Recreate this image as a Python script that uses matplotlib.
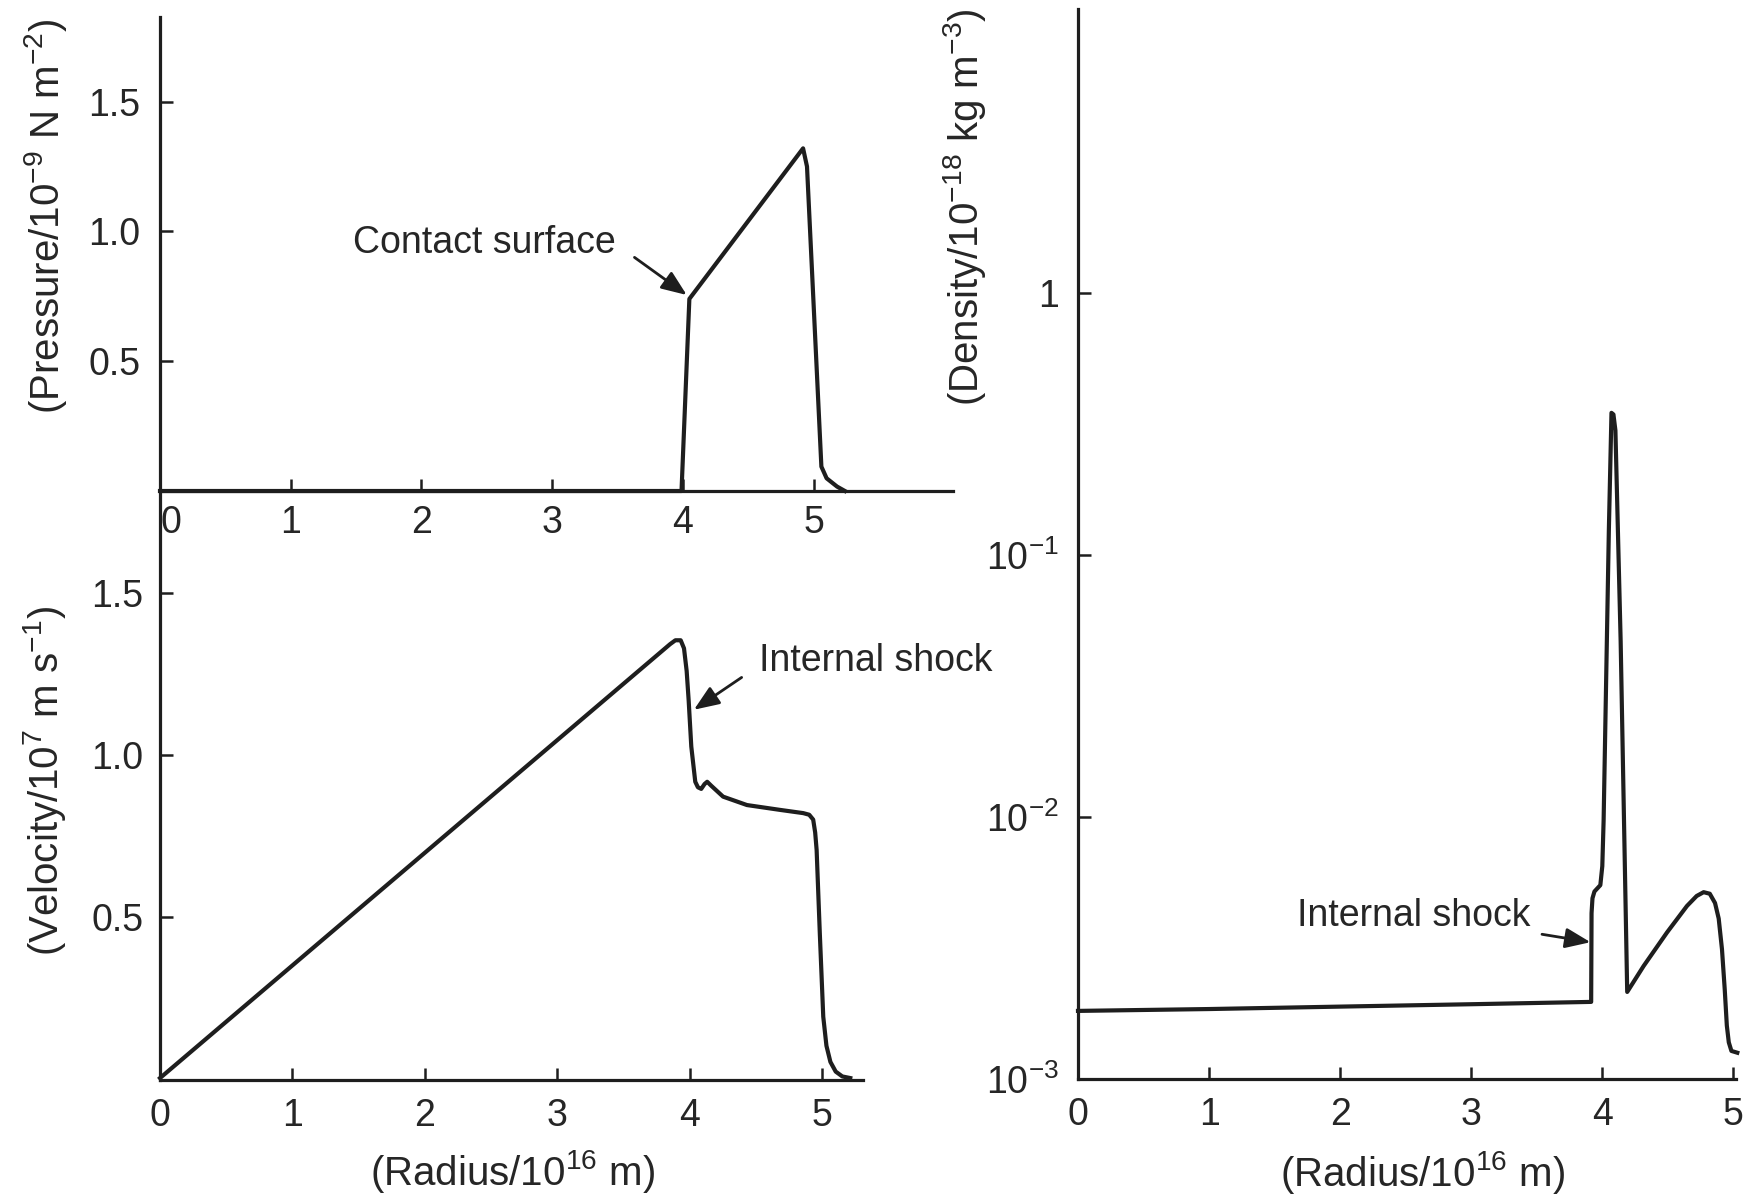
import matplotlib
matplotlib.use("Agg")
import matplotlib.pyplot as plt
from matplotlib.ticker import NullLocator

plt.rcParams['font.family'] = ['Liberation Sans', 'DejaVu Sans']
plt.rcParams['mathtext.fontset'] = 'custom'
plt.rcParams['mathtext.rm'] = 'Liberation Sans'
plt.rcParams['mathtext.it'] = 'Liberation Sans:italic'
plt.rcParams['mathtext.default'] = 'regular'

# ---------------- data ----------------
pressure_r = [0, 3.99, 4.05, 4.92, 4.95, 5.06, 5.10, 5.18, 5.24]
pressure_v = [0, 0, 0.74, 1.32, 1.25, 0.094, 0.049, 0.017, 0]

velocity_r = [0, 3.85, 3.89, 3.93, 3.955, 3.975, 3.99, 4.01, 4.04, 4.06, 4.085, 4.11,
              4.13, 4.16, 4.25, 4.43, 4.68, 4.855, 4.90, 4.93, 4.945, 4.956, 4.98,
              5.006, 5.03, 5.06, 5.10, 5.15, 5.21]
velocity_v = [0, 1.343, 1.355, 1.355, 1.33, 1.26, 1.17, 1.026, 0.917, 0.90, 0.895, 0.91,
              0.917, 0.905, 0.871, 0.845, 0.83, 0.82, 0.815, 0.80, 0.76, 0.706, 0.448,
              0.19, 0.10, 0.05, 0.02, 0.005, 0]

density_r = [0, 1, 2, 3, 3.915, 3.918, 3.925, 3.94, 3.985, 4.0, 4.01, 4.05, 4.07, 4.085,
             4.1, 4.14, 4.19, 4.315, 4.494, 4.646, 4.72, 4.773, 4.82, 4.86, 4.888,
             4.913, 4.934, 4.95, 4.965, 4.985, 5.03]
density_v = [1.82e-3, 1.85e-3, 1.89e-3, 1.93e-3, 1.97e-3, 4.3e-3, 4.9e-3, 5.2e-3,
             5.5e-3, 6.5e-3, 9.7e-3, 0.125, 0.35, 0.345, 0.30, 0.047, 2.15e-3, 2.7e-3,
             3.63e-3, 4.58e-3, 5.0e-3, 5.17e-3, 5.1e-3, 4.7e-3, 4.1e-3, 3.13e-3,
             2.2e-3, 1.6e-3, 1.38e-3, 1.28e-3, 1.26e-3]

x_ticks = [0, 1, 2, 3, 4, 5]
x_ticklabels = ['0', '1', '2', '3', '4', '5']
lin_yticks = [0.5, 1.0, 1.5]
lin_yticklabels = ['0.5', '1.0', '1.5']
log_yticks = [1e-3, 1e-2, 1e-1, 1]
log_yticklabels = [r'$10^{-3}$', r'$10^{-2}$', r'$10^{-1}$', '1']

# ---------------- style ----------------
INK = '#1e1e1e'
TXT = '#262626'
LW = 3.0
SPW = 2.3
TICK_FS = 27
LABEL_FS = 29

W, H = 1762, 1196
fig = plt.figure(figsize=(W / 100, H / 100), dpi=100)
fig.patch.set_facecolor('white')


def px_axes(left, top, right, bottom):
    return fig.add_axes([left / W, (H - bottom) / H, (right - left) / W, (bottom - top) / H])


def style(ax, xpad, ypad):
    for s in ['top', 'right']:
        ax.spines[s].set_visible(False)
    for s in ['left', 'bottom']:
        ax.spines[s].set_linewidth(SPW)
        ax.spines[s].set_color(INK)
    ax.set_facecolor('none')
    ax.tick_params(axis='both', direction='in', length=9, width=1.8, color=INK,
                   labelsize=TICK_FS, labelcolor=TXT)
    ax.tick_params(axis='x', pad=xpad)
    ax.tick_params(axis='y', pad=ypad)
    ax.yaxis.set_minor_locator(NullLocator())
    ax.xaxis.set_minor_locator(NullLocator())


ARROW = dict(arrowstyle='-|>,head_length=0.7,head_width=0.28',
             color=INK, lw=2.0, mutation_scale=22, shrinkA=0, shrinkB=0)

# ---------- pressure (top-left) ----------
axp = px_axes(160, 17, 953, 491)
axp.plot(pressure_r, pressure_v, color=INK, lw=LW, solid_joinstyle='round', clip_on=False)
axp.set_xlim(0, 6.067)
axp.set_ylim(0, 1.826)
axp.set_xticks(x_ticks, x_ticklabels)
axp.set_yticks(lin_yticks, lin_yticklabels)
style(axp, 10, 14)
axp.get_xticklabels()[0].set_ha('left')
axp.text(-0.145, 0.58, r'(Pressure/10$^{-9}$ N m$^{-2}$)', transform=axp.transAxes,
         rotation=90, ha='center', va='center', fontsize=LABEL_FS, color=TXT)
axp.text(2.48, 0.955, 'Contact surface', ha='center', va='center', fontsize=TICK_FS, color=TXT)
axp.annotate('', xy=(4.03, 0.755), xytext=(3.63, 0.90), arrowprops=ARROW)

# ---------- velocity (bottom-left) ----------
axv = px_axes(160, 491, 863, 1080)
axv.plot(velocity_r, velocity_v, color=INK, lw=LW, solid_joinstyle='round', clip_on=False)
axv.set_xlim(0, 5.306)
axv.set_ylim(-0.006, 1.817)
axv.set_xticks(x_ticks, x_ticklabels)
axv.set_yticks(lin_yticks, lin_yticklabels)
style(axv, 13, 12)
axv.text(-0.1636, 0.5076, r'(Velocity/10$^{7}$ m s$^{-1}$)', transform=axv.transAxes,
         rotation=90, ha='center', va='center', fontsize=LABEL_FS, color=TXT)
axv.text(0.502, -0.156, r'(Radius/10$^{16}$ m)', transform=axv.transAxes,
         ha='center', va='center', fontsize=LABEL_FS, color=TXT)
axv.text(5.40, 1.29, 'Internal shock', ha='center', va='center', fontsize=TICK_FS, color=TXT)
axv.annotate('', xy=(4.03, 1.14), xytext=(4.39, 1.24), arrowprops=ARROW)

# ---------- density (right, log) ----------
axd = px_axes(1078, 9, 1736, 1079)
axd.plot(density_r, density_v, color=INK, lw=LW, solid_joinstyle='round', clip_on=False)
axd.set_yscale('log')
axd.set_xlim(0, 5.02)
axd.set_ylim(1e-3, 12.2)
axd.set_xticks(x_ticks, x_ticklabels)
axd.set_yticks(log_yticks, log_yticklabels)
style(axd, 13, 14)
axd.text(-0.173, 0.815, r'(Density/10$^{-18}$ kg m$^{-3}$)', transform=axd.transAxes,
         rotation=90, ha='center', va='center', fontsize=LABEL_FS, color=TXT)
axd.text(0.524, -0.087, r'(Radius/10$^{16}$ m)', transform=axd.transAxes,
         ha='center', va='center', fontsize=LABEL_FS, color=TXT)
axd.text(2.56, 4.19e-3, 'Internal shock', ha='center', va='center', fontsize=TICK_FS, color=TXT)
axd.annotate('', xy=(3.91, 3.33e-3), xytext=(3.54, 3.57e-3), arrowprops=ARROW)

fig.savefig('out.png', dpi=100, facecolor='white')
